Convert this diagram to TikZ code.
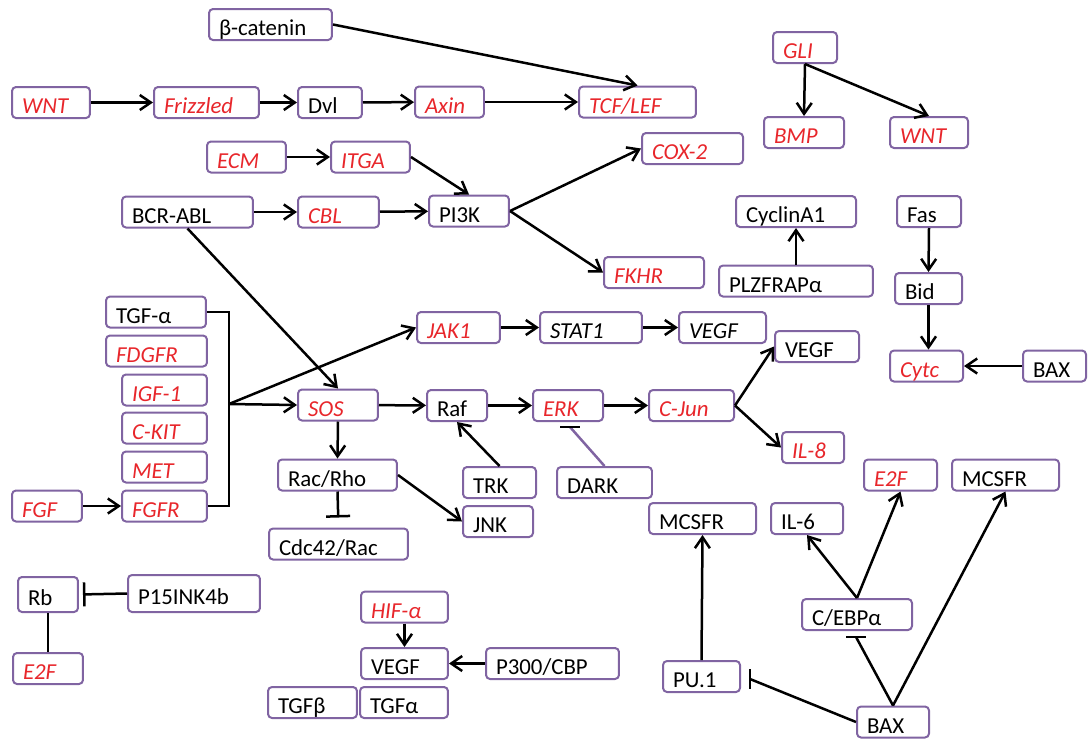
\documentclass[tikz,border=0pt]{standalone}
\usepackage{fontspec}
\setmainfont{Carlito}
\usepackage{tikz}
\usetikzlibrary{arrows.meta}
\definecolor{boxline}{RGB}{128,100,162}
\definecolor{genered}{RGB}{232,38,43}

\begin{document}
\begin{tikzpicture}[x=0.02cm, y=-0.02cm,
  node font=\fontsize{13}{15}\selectfont,
  box/.style={draw=boxline, line width=0.04cm, rounded corners=0.08cm, fill=white,
    minimum height=0.62cm, inner xsep=0.2cm, inner ysep=0.05cm,
    text height=0.44cm, text depth=0cm, align=left},
  gene/.style={box, text=genered, font=\itshape},
  arr/.style={line width=0.05cm, -{Straight Barb[length=0.22cm, width=0.3cm]}},
  inh/.style={line width=0.05cm, -{Bar[width=0.48cm]}},
  ln/.style={line width=0.05cm}]
\useasboundingbox (0,0) rectangle (1088,738);

\node[box, text width=2.06cm] (bcat) at (270.5,24.5) {β-catenin};
\node[gene, text width=1.16cm] (wnt1) at (51,102.5) {WNT};
\node[gene, text width=1.70cm] (frz) at (206.5,102.5) {Frizzled};
\node[box, text width=0.88cm] (dvl) at (330,102.5) {Dvl};
\node[gene, text width=0.98cm] (axin) at (449.5,102) {Axin};
\node[gene, text width=1.94cm] (tcf) at (637.5,102) {TCF/LEF};
\node[gene, text width=0.88cm] (gli) at (805,47.5) {GLI};
\node[gene, text width=1.20cm] (bmp) at (804,132.5) {BMP};
\node[gene, text width=1.16cm] (wnt2) at (929,132.5) {WNT};
\node[gene, text width=1.18cm] (ecm) at (246.5,157) {ECM};
\node[gene, text width=1.18cm] (itga) at (370.5,157) {ITGA};
\node[gene, text width=1.62cm] (cox) at (692.5,148.5) {COX-2};
\node[box, text width=2.22cm] (bcr) at (187.5,212) {BCR-ABL};
\node[gene, text width=1.22cm] (cbl) at (338.5,212) {CBL};
\node[box, text width=1.20cm] (pik) at (469,211) {PI3K};
\node[box, text width=2.00cm] (cyc) at (796,211.5) {CyclinA1};
\node[box, text width=0.88cm] (fas) at (929,211.5) {Fas};
\node[gene, text width=1.60cm] (fkhr) at (654,272.5) {FKHR};
\node[box, text width=2.68cm] (plz) at (796,281) {PLZFRAPα};
\node[box, text width=0.94cm] (bid) at (928.5,288.5) {Bid};

\node[box, text width=1.60cm] (tgfa) at (156,312) {TGF-α};
\node[gene, text width=1.62cm] (fdgfr) at (156.5,351) {FDGFR};
\node[gene, text width=1.30cm] (igf) at (164.5,390) {IGF-1};
\node[gene, text width=1.30cm] (ckit) at (164.5,428) {C-KIT};
\node[gene, text width=1.30cm] (met) at (164.5,467) {MET};
\node[gene, text width=1.30cm] (fgfr) at (164.5,506) {FGFR};
\node[gene, text width=1.00cm] (fgf) at (47,506) {FGF};
\node[gene, text width=1.26cm] (jak) at (458.5,327.5) {JAK1};
\node[box, font=\itshape, text width=1.64cm] (stat) at (591,327.5) {STAT1};
\node[box, font=\itshape, text width=1.34cm] (vegfa) at (722.5,327.5) {VEGF};
\node[box, text width=1.28cm] (vegfb) at (817,346.5) {VEGF};
\node[gene, text width=1.06cm] (cytc) at (926.5,366) {Cytc};
\node[box, text width=0.86cm] (baxa) at (1054.5,366) {BAX};
\node[gene, text width=1.20cm] (sos) at (338,405) {SOS};
\node[box, text width=0.80cm] (raf) at (457,405.5) {Raf};
\node[gene, text width=1.00cm] (erk) at (568,405.5) {ERK};
\node[gene, text width=1.30cm] (cjun) at (691.5,405.5) {C-Jun};
\node[gene, text width=0.84cm] (il8) at (813,447.5) {IL-8};
\node[box, text width=1.98cm] (racrho) at (337.5,475) {Rac/Rho};
\node[box, text width=1.06cm] (trk) at (499.5,482.5) {TRK};
\node[box, text width=1.50cm] (dark) at (604.5,482.5) {DARK};
\node[box, text width=1.00cm] (jnk) at (498,521.5) {JNK};
\node[box, text width=2.38cm] (cdc) at (338.5,544) {Cdc42/Rac};

\node[box, text width=1.74cm] (mcsfra) at (702.5,518.5) {MCSFR};
\node[box, text width=1.04cm] (il6) at (807,518.5) {IL-6};
\node[gene, text width=1.06cm] (e2fa) at (900.5,475) {E2F};
\node[box, text width=1.74cm] (mcsfrb) at (1005.5,475) {MCSFR};
\node[box, text width=1.80cm] (cebp) at (857,614.5) {C/EBPα};
\node[box, text width=1.14cm] (pu) at (701.5,676.5) {PU.1};
\node[box, text width=1.04cm] (baxb) at (893,722) {BAX};

\node[box, minimum height=0.7cm, text width=0.80cm] (rb) at (48,594.5) {Rb};
\node[box, minimum height=0.74cm, text width=2.24cm] (p15) at (194,593.5) {P15INK4b};
\node[gene, text width=1.00cm] (e2fb) at (48,668.5) {E2F};
\node[gene, text width=1.34cm] (hif) at (404.5,607) {HIF-α};
\node[box, text width=1.34cm] (vegfc) at (404.5,663.5) {VEGF};
\node[box, text width=2.26cm] (p300) at (552.5,663.5) {P300/CBP};
\node[box, text width=1.38cm] (tgfb) at (312.5,702.5) {TGFβ};
\node[box, text width=1.36cm] (tgfab) at (404,702.5) {TGFα};

\draw[arr] (bcat.east) -- (tcf.north);
\draw[arr] (wnt1) -- (frz);
\draw[arr] (frz) -- (dvl);
\draw[arr] (dvl) -- (axin);
\draw[arr] (axin) -- (tcf);
\draw[arr] (gli.south) -- (bmp.north);
\draw[arr] (gli.south) -- (wnt2.north);
\draw[arr] (ecm) -- (itga);
\draw[arr] (itga.east) -- (pik.north);
\draw[arr] (bcr) -- (cbl);
\draw[arr] (cbl) -- (pik);
\draw[arr] (pik.east) -- (cox.west);
\draw[arr] (pik.east) -- (fkhr.west);
\draw[arr] (plz.north) -- (cyc.south);
\draw[arr] (fas.south) -- (bid.north);
\draw[arr] (bid.south) -- (bid.south |- cytc.north);
\draw[arr] (baxa) -- (cytc);

\coordinate (jn) at (229,404);
\draw[ln] (tgfa.east) -| (jn) |- (fgfr.east);
\draw[arr] (jn) -- (sos.west);
\draw[arr] (jn) -- (jak.west);
\draw[arr] (bcr.south) -- (sos.north);
\draw[arr] (fgf) -- (fgfr);
\draw[arr] (jak) -- (stat);
\draw[arr] (stat) -- (vegfa);
\draw[arr] (sos) -- (raf);
\draw[arr] (raf) -- (erk);
\draw[arr] (erk) -- (cjun);
\draw[arr] (cjun.east) -- (vegfb.west);
\draw[arr] (cjun.east) -- (il8.west);
\draw[arr] (sos.south) -- (racrho.north);
\draw[inh, shorten >=0.2cm] (racrho.south) -- (cdc.north);
\draw[arr] (racrho.east) -- (jnk.west);
\draw[arr] (trk.north) -- (raf.south);
\coordinate (erkbar) at (570,427);
\draw[ln, boxline] (dark.north) -- (erkbar);
\draw[ln] (erkbar) ++(-10,0) -- ++(20,0);

\draw[arr] (pu.north) -- (mcsfra.south);
\draw[arr] (cebp.north) -- (il6.south);
\draw[arr] (cebp.north) -- (e2fa.south);
\draw[arr] (baxb.north) -- (mcsfrb.south);
\coordinate (cebar) at (856,637);
\draw[ln] (baxb.north) -- (cebar);
\draw[ln] (cebar) ++(-10,0) -- ++(20,0);
\coordinate (pubar) at (750,679);
\draw[ln] (baxb.west) -- (pubar);
\draw[ln] (pubar) ++(0,-10) -- ++(0,20);

\draw[inh, shorten >=0.08cm] (p15.west) -- (rb.east);
\draw[ln] (rb.south) -- (e2fb.north);
\draw[arr] (hif.south) -- (vegfc.north);
\draw[arr] (p300.west) -- (vegfc.east);
\end{tikzpicture}
\end{document}
